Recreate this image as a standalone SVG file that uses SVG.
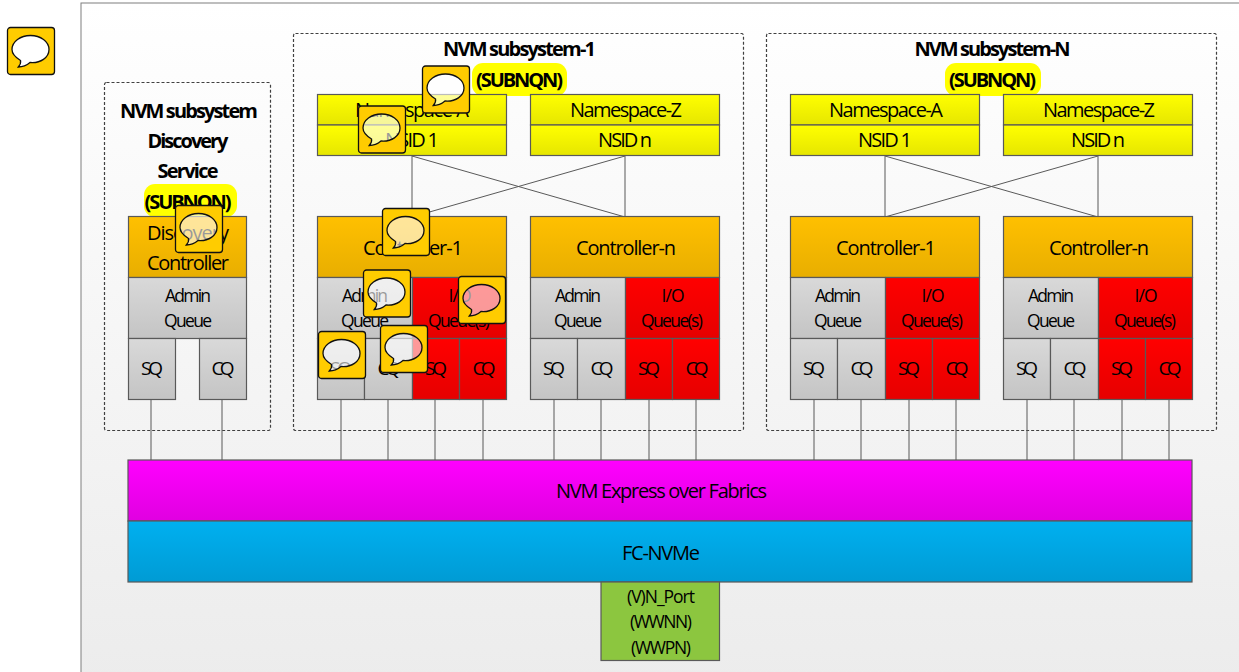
<svg xmlns="http://www.w3.org/2000/svg" width="1239" height="672" viewBox="0 0 1239 672">
<style>
text{font-family:"Open Sans","Noto Sans","Liberation Sans",sans-serif;fill:#000;text-anchor:middle;font-size:20px;transform:translateY(1px)}
.b{font-weight:700;font-size:20px}
.s{font-size:17.500px}
.m{font-size:19px}
.box{stroke:#595959;stroke-width:1.200}
.sub{fill:none;stroke:#404040;stroke-width:1.200;stroke-dasharray:3 2}
.conn{fill:none;stroke:#595959;stroke-width:1}
.hl{fill:#ffff00}
.ic{fill:#ffcc00;fill-rule:evenodd;stroke:none}
.io{fill:none;stroke:#111;stroke-width:1.300}
.iw{fill:#fff;fill-opacity:.6;stroke:none}
</style>
<defs>
<linearGradient id="bg" x1="0" y1="0" x2="0" y2="1"><stop offset="0" stop-color="#fff"/><stop offset="1" stop-color="#ececec"/></linearGradient>
<linearGradient id="yel" x1="0" y1="0" x2="0" y2="1"><stop offset="0" stop-color="#ffff00"/><stop offset="1" stop-color="#e6e600"/></linearGradient>
<linearGradient id="ora" x1="0" y1="0" x2="0" y2="1"><stop offset="0" stop-color="#ffc000"/><stop offset="1" stop-color="#e8ae00"/></linearGradient>
<linearGradient id="gry" x1="0" y1="0" x2="0" y2="1"><stop offset="0" stop-color="#d9d9d9"/><stop offset="1" stop-color="#c4c4c4"/></linearGradient>
<linearGradient id="red" x1="0" y1="0" x2="0" y2="1"><stop offset="0" stop-color="#ff0000"/><stop offset="1" stop-color="#e60000"/></linearGradient>
<linearGradient id="mag" x1="0" y1="0" x2="0" y2="1"><stop offset="0" stop-color="#ff00ff"/><stop offset="1" stop-color="#e000e0"/></linearGradient>
<linearGradient id="cya" x1="0" y1="0" x2="0" y2="1"><stop offset="0" stop-color="#00b0f0"/><stop offset="1" stop-color="#009bd4"/></linearGradient>
<g id="icon">
<path class="iw" d="M13,33C6.500,29 4.500,26 4.500,22C4.500,14 13,8 23,8C33,8 41.500,14 41.500,22C41.500,30 33,36 22.500,35C19,38 15,39.500 10.800,39.500C12.500,37.500 13.500,35 13,33Z"/>
<path class="ic" d="M3,0H44A3,3 0 0 1 47,3V44A3,3 0 0 1 44,47H3A3,3 0 0 1 0,44V3A3,3 0 0 1 3,0ZM13,33C6.500,29 4.500,26 4.500,22C4.500,14 13,8 23,8C33,8 41.500,14 41.500,22C41.500,30 33,36 22.500,35C19,38 15,39.500 10.800,39.500C12.500,37.500 13.500,35 13,33Z"/>
<path class="io" d="M3,0H44A3,3 0 0 1 47,3V44A3,3 0 0 1 44,47H3A3,3 0 0 1 0,44V3A3,3 0 0 1 3,0Z"/>
<path class="io" d="M13,33C6.500,29 4.500,26 4.500,22C4.500,14 13,8 23,8C33,8 41.500,14 41.500,22C41.500,30 33,36 22.500,35C19,38 15,39.500 10.800,39.500C12.500,37.500 13.500,35 13,33Z"/>
</g>
</defs>

<rect id="panel" x="81" y="3" width="1170" height="680" fill="url(#bg)" stroke="#7f7f7f" stroke-width="1"/>

<g id="subsystem-discovery">
<rect class="sub" x="104.500" y="82.500" width="166" height="348" rx="2"/>
<rect class="hl" x="144" y="184" width="93" height="33" rx="11"/>
<text class="b" x="189" y="117" textLength="138">NVM subsystem</text>
<text class="b" x="188" y="147" textLength="81">Discovery</text>
<text class="b" x="188" y="177" textLength="61">Service</text>
<text class="b" x="188" y="208" textLength="87">(SUBNQN)</text>
</g>
<g id="subsystem-1">
<rect class="sub" x="293.500" y="33.500" width="450" height="397" rx="2"/>
<rect class="hl" x="472" y="63" width="95" height="33" rx="11"/>
<text class="b" x="519.500" y="55" textLength="153">NVM subsystem-1</text>
<text class="b" x="519.500" y="86" textLength="87">(SUBNQN)</text>
</g>
<g id="subsystem-n">
<rect class="sub" x="766.500" y="33.500" width="450" height="397" rx="2"/>
<rect class="hl" x="945" y="63" width="96" height="33" rx="11"/>
<text class="b" x="992.500" y="55" textLength="156">NVM subsystem-N</text>
<text class="b" x="992.500" y="86" textLength="87">(SUBNQN)</text>
</g>

<g id="connectors">
<path class="conn" d="M412,156V217M625,156V217M412,156L625,217M625,156L412,217"/>
<path class="conn" d="M885,156V217M1098,156V217M885,156L1098,217M1098,156L885,217"/>
<path class="conn" d="M151,400V460M222,400V460M341,400V460M388,400V460M435,400V460M483,400V460M554,400V460M601,400V460M649,400V460M696,400V460M814,400V460M861,400V460M909,400V460M956,400V460M1027,400V460M1074,400V460M1122,400V460M1169,400V460"/>
</g>

<g id="ns-1a"><rect class="box" fill="url(#yel)" x="317.500" y="94.500" width="189" height="30.500"/><rect class="box" fill="url(#yel)" x="317.500" y="125" width="189" height="30.500"/>
<text x="412" y="116" textLength="114">Namespace-A</text><text x="412" y="146" textLength="54">NSID 1</text></g>
<g id="ns-1z"><rect class="box" fill="url(#yel)" x="530.500" y="94.500" width="189" height="30.500"/><rect class="box" fill="url(#yel)" x="530.500" y="125" width="189" height="30.500"/>
<text x="626" y="116" textLength="112">Namespace-Z</text><text x="625" y="146" textLength="54">NSID n</text></g>
<g id="ns-na"><rect class="box" fill="url(#yel)" x="790.500" y="94.500" width="189" height="30.500"/><rect class="box" fill="url(#yel)" x="790.500" y="125" width="189" height="30.500"/>
<text x="886" y="116" textLength="114">Namespace-A</text><text x="885" y="146" textLength="54">NSID 1</text></g>
<g id="ns-nz"><rect class="box" fill="url(#yel)" x="1003.500" y="94.500" width="189" height="30.500"/><rect class="box" fill="url(#yel)" x="1003.500" y="125" width="189" height="30.500"/>
<text x="1099" y="116" textLength="112">Namespace-Z</text><text x="1098" y="146" textLength="54">NSID n</text></g>

<g id="ctrl-discovery">
<rect class="box" fill="url(#ora)" x="128.500" y="216.500" width="118" height="61"/>
<text x="188" y="239" textLength="82">Discovery</text><text x="188" y="269" textLength="82">Controller</text>
<rect class="box" fill="url(#gry)" x="128.500" y="277.500" width="118" height="61"/>
<text class="s" x="188" y="301" textLength="46">Admin</text><text class="s" x="188" y="326" textLength="48">Queue</text>
<rect class="box" fill="url(#gry)" x="128.500" y="338.500" width="47" height="61"/>
<rect class="box" fill="url(#gry)" x="199.500" y="338.500" width="47" height="61"/>
<text class="m" x="152" y="374" textLength="22">SQ</text><text class="m" x="223" y="374" textLength="23">CQ</text>
</g>

<g id="ctrl-1-1">
<rect class="box" fill="url(#ora)" x="317.500" y="216.500" width="189" height="61"/>
<text x="413" y="254" textLength="100">Controller-1</text>
<rect class="box" fill="url(#gry)" x="317.500" y="277.500" width="95" height="61"/>
<text class="s" x="365" y="301" textLength="46">Admin</text><text class="s" x="365" y="326" textLength="48">Queue</text>
<rect class="box" fill="url(#red)" x="412.500" y="277.500" width="94" height="61"/>
<text class="s" x="460" y="301" textLength="23">I/O</text><text class="s" x="459" y="326" textLength="62">Queue(s)</text>
<rect class="box" fill="url(#gry)" x="317.500" y="338.500" width="47" height="61"/><rect class="box" fill="url(#gry)" x="364.500" y="338.500" width="48" height="61"/>
<rect class="box" fill="url(#red)" x="412.500" y="338.500" width="47" height="61"/><rect class="box" fill="url(#red)" x="459.500" y="338.500" width="47" height="61"/>
<text class="m" x="341" y="374" textLength="22">SQ</text><text class="m" x="389" y="374" textLength="23">CQ</text><text class="m" x="436" y="374" textLength="22">SQ</text><text class="m" x="484" y="374" textLength="23">CQ</text>
</g>
<g id="ctrl-1-n">
<rect class="box" fill="url(#ora)" x="530.500" y="216.500" width="189" height="61"/>
<text x="626" y="254" textLength="100">Controller-n</text>
<rect class="box" fill="url(#gry)" x="530.500" y="277.500" width="95" height="61"/>
<text class="s" x="578" y="301" textLength="46">Admin</text><text class="s" x="578" y="326" textLength="48">Queue</text>
<rect class="box" fill="url(#red)" x="625.500" y="277.500" width="94" height="61"/>
<text class="s" x="673" y="301" textLength="23">I/O</text><text class="s" x="672" y="326" textLength="62">Queue(s)</text>
<rect class="box" fill="url(#gry)" x="530.500" y="338.500" width="47" height="61"/><rect class="box" fill="url(#gry)" x="577.500" y="338.500" width="48" height="61"/>
<rect class="box" fill="url(#red)" x="625.500" y="338.500" width="47" height="61"/><rect class="box" fill="url(#red)" x="672.500" y="338.500" width="47" height="61"/>
<text class="m" x="554" y="374" textLength="22">SQ</text><text class="m" x="602" y="374" textLength="23">CQ</text><text class="m" x="649" y="374" textLength="22">SQ</text><text class="m" x="697" y="374" textLength="23">CQ</text>
</g>
<g id="ctrl-n-1">
<rect class="box" fill="url(#ora)" x="790.500" y="216.500" width="189" height="61"/>
<text x="886" y="254" textLength="100">Controller-1</text>
<rect class="box" fill="url(#gry)" x="790.500" y="277.500" width="95" height="61"/>
<text class="s" x="838" y="301" textLength="46">Admin</text><text class="s" x="838" y="326" textLength="48">Queue</text>
<rect class="box" fill="url(#red)" x="885.500" y="277.500" width="94" height="61"/>
<text class="s" x="933" y="301" textLength="23">I/O</text><text class="s" x="932" y="326" textLength="62">Queue(s)</text>
<rect class="box" fill="url(#gry)" x="790.500" y="338.500" width="47" height="61"/><rect class="box" fill="url(#gry)" x="837.500" y="338.500" width="48" height="61"/>
<rect class="box" fill="url(#red)" x="885.500" y="338.500" width="47" height="61"/><rect class="box" fill="url(#red)" x="932.500" y="338.500" width="47" height="61"/>
<text class="m" x="814" y="374" textLength="22">SQ</text><text class="m" x="862" y="374" textLength="23">CQ</text><text class="m" x="909" y="374" textLength="22">SQ</text><text class="m" x="957" y="374" textLength="23">CQ</text>
</g>
<g id="ctrl-n-n">
<rect class="box" fill="url(#ora)" x="1003.500" y="216.500" width="189" height="61"/>
<text x="1099" y="254" textLength="100">Controller-n</text>
<rect class="box" fill="url(#gry)" x="1003.500" y="277.500" width="95" height="61"/>
<text class="s" x="1051" y="301" textLength="46">Admin</text><text class="s" x="1051" y="326" textLength="48">Queue</text>
<rect class="box" fill="url(#red)" x="1098.500" y="277.500" width="94" height="61"/>
<text class="s" x="1146" y="301" textLength="23">I/O</text><text class="s" x="1145" y="326" textLength="62">Queue(s)</text>
<rect class="box" fill="url(#gry)" x="1003.500" y="338.500" width="47" height="61"/><rect class="box" fill="url(#gry)" x="1050.500" y="338.500" width="48" height="61"/>
<rect class="box" fill="url(#red)" x="1098.500" y="338.500" width="47" height="61"/><rect class="box" fill="url(#red)" x="1145.500" y="338.500" width="47" height="61"/>
<text class="m" x="1027" y="374" textLength="22">SQ</text><text class="m" x="1075" y="374" textLength="23">CQ</text><text class="m" x="1122" y="374" textLength="22">SQ</text><text class="m" x="1170" y="374" textLength="23">CQ</text>
</g>

<g id="nvme-of"><rect class="box" fill="url(#mag)" x="128" y="460" width="1064" height="61"/><text x="661.500" y="497" textLength="211">NVM Express over Fabrics</text></g>
<g id="fc-nvme"><rect class="box" fill="url(#cya)" x="128" y="521" width="1064" height="61"/><text x="661" y="559" textLength="78">FC-NVMe</text></g>
<g id="n-port"><rect class="box" fill="#8cc63f" x="601" y="582" width="118.500" height="78.500"/>
<text class="s" x="661" y="602" textLength="68">(V)N_Port</text><text class="s" x="661" y="627" textLength="62">(WWNN)</text><text class="s" x="661" y="653" textLength="60">(WWPN)</text></g>

<g id="comments">
<use href="#icon" x="7.500" y="27.500"/>
<use href="#icon" x="175.500" y="205.500"/>
<use href="#icon" x="422.500" y="66"/>
<use href="#icon" x="358.500" y="106"/>
<use href="#icon" x="382.500" y="208.500"/>
<use href="#icon" x="363.500" y="270"/>
<use href="#icon" x="458.500" y="276.500"/>
<use href="#icon" x="318.500" y="331.500"/>
<use href="#icon" x="380.500" y="325.500"/>
</g>
</svg>
